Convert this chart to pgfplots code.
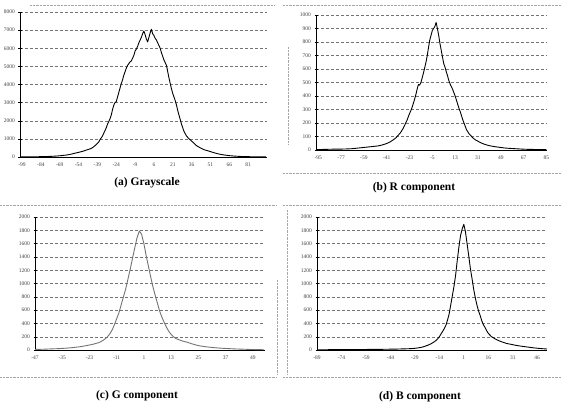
\documentclass[border=0pt]{standalone}
\usepackage{fontspec}
\setmainfont{Liberation Serif}
\usepackage{pgfplots}
\pgfplotsset{compat=1.18}

\pgfplotsset{
  panel/.style={
    scale only axis,
    anchor=south west,
    axis lines=left,
    axis line style={-, black, line width=0.5pt},
    ymin=0,
    enlargelimits=false,
    ymajorgrids,
    major grid style={densely dashed, black!55, line width=0.35pt},
    tick label style={font=\fontsize{5.5}{6}\selectfont, text=black!75},
    /pgf/number format/assume math mode=true,
    /pgf/number format/set thousands separator={},
    scaled y ticks=false,
    xtick style={draw=none},
    ytick style={black, line width=0.4pt},
    tick align=center,
    major tick length=3pt,
    xticklabel style={yshift=-1pt},
  },
  hist/.style={black, line width=0.9pt, line join=round},
}

\begin{document}
\begin{tikzpicture}[x=1pt, y=1pt]
\path[use as bounding box] (0pt,0pt) rectangle (561pt,402pt);

% faint dotted chart-area borders
\draw[black!35, densely dotted, line width=0.4pt] (30pt,397pt) -- (275pt,397pt);
\draw[black!35, densely dotted, line width=0.4pt] (283pt,397pt) -- (561pt,397pt);
\draw[black!35, densely dotted, line width=0.4pt] (288pt,355pt) -- (288pt,258pt);
\draw[black!35, densely dotted, line width=0.4pt] (283pt,229pt) -- (561pt,229pt);
\draw[black!35, densely dotted, line width=0.4pt] (0pt,197pt) -- (277pt,197pt);
\draw[black!35, densely dotted, line width=0.4pt] (277pt,122pt) -- (277pt,27pt);
\draw[black!35, densely dotted, line width=0.4pt] (0pt,25pt) -- (277pt,25pt);
\draw[black!35, densely dotted, line width=0.4pt] (283pt,197pt) -- (561pt,197pt);
\draw[black!35, densely dotted, line width=0.4pt] (287pt,192pt) -- (287pt,27pt);
\draw[black!35, densely dotted, line width=0.4pt] (283pt,25pt) -- (561pt,25pt);

% (a) Grayscale
\begin{axis}[panel, at={(20pt,245pt)}, width=247pt, height=145pt,
  xmin=-100.6, xmax=96, ymax=8000,
  ytick={0,1000,...,8000},
  xtick={-99,-84,...,81}]
\addplot[hist] coordinates {
(-100,5) (-96,8) (-92,10) (-88,14) (-84,18) (-80,25) (-76,35) (-72,50)
(-68,75) (-64,105) (-61,140) (-58,190) (-55,240) (-52,290) (-50,330)
(-48,380) (-46,420) (-44,470) (-42,560) (-40,680) (-38,820) (-37,950)
(-36,1050) (-35,1150) (-34,1300) (-33,1450) (-32,1600) (-31,1800)
(-30,1950) (-29,2100) (-28,2300) (-27,2600) (-26,2850) (-25,3000)
(-24,3050) (-23,3300) (-22,3550) (-21,3800) (-20,4050) (-19,4250)
(-18,4500) (-17,4700) (-16,4900) (-15,5050) (-14,5150) (-13,5250)
(-12,5300) (-11,5450) (-10,5600) (-9,5850) (-8,5950) (-7,6100)
(-6,6300) (-5,6450) (-4,6600) (-3,6800) (-2,6950) (-1,6750) (0,6500)
(1,6350) (2,6600) (3,6850) (4,7050) (5,6800) (6,6700) (7,6550)
(8,6450) (9,6300) (10,6150) (11,6000) (12,5750) (13,5550) (14,5350)
(15,5200) (16,5050) (17,4700) (18,4350) (19,4050) (20,3750) (21,3500)
(22,3300) (23,3100) (24,2850) (25,2550) (26,2300) (27,2050) (28,1800)
(29,1600) (30,1400) (32,1150) (34,1000) (36,880) (38,750) (40,620)
(43,500) (46,400) (50,320) (54,230) (58,160) (62,110) (66,75) (70,50)
(75,30) (80,20) (85,12) (90,8) (95,5)
};
\end{axis}

% (b) R component
\begin{axis}[panel, at={(316pt,252pt)}, width=231pt, height=135pt,
  xmin=-96.8, xmax=85.5, ymax=1000,
  ytick={0,100,...,1000},
  xtick={-95,-77,...,85}]
\addplot[hist] coordinates {
(-97,3) (-92,4) (-88,5) (-84,6) (-80,6) (-76,7) (-72,8) (-68,10)
(-64,14) (-60,18) (-56,22) (-52,26) (-48,30) (-45,36) (-42,45)
(-40,52) (-38,62) (-36,74) (-34,88) (-32,108) (-30,130) (-29,145)
(-28,160) (-27,180) (-26,200) (-25,220) (-24,245) (-23,270) (-22,290)
(-21,315) (-20,345) (-19,375) (-18,410) (-17,450) (-16,485) (-15,480)
(-14,500) (-13,535) (-12,570) (-11,610) (-10,650) (-9,700) (-8,760)
(-7,815) (-6,850) (-5,885) (-4,900) (-3,915) (-2,945) (-1,900) (0,850)
(1,790) (2,740) (3,690) (4,640) (5,615) (6,580) (7,550) (8,515)
(9,490) (10,470) (11,450) (12,425) (13,400) (14,370) (15,340) (16,310)
(17,285) (18,255) (19,225) (20,200) (21,175) (22,150) (23,135)
(24,120) (25,110) (27,90) (29,75) (31,65) (34,50) (37,40) (40,32)
(44,25) (48,20) (52,15) (56,12) (60,10) (65,7) (70,5) (75,4) (80,3)
(85,3)
};
\end{axis}

% (c) G component
\begin{axis}[panel, at={(35pt,52pt)}, width=230pt, height=133pt,
  xmin=-47, xmax=54.4, ymax=2000,
  ytick={0,200,...,2000},
  xtick={-47,-35,...,49}]
\addplot[black!55, line width=0.9pt, line join=round] coordinates {
(-47,8) (-45,10) (-43,12) (-41,15) (-39,18) (-37,20) (-35,24) (-33,28)
(-31,34) (-29,42) (-27,50) (-25,62) (-23,75) (-21,90) (-20,100)
(-19,110) (-18,125) (-17,145) (-16,170) (-15,200) (-14,245) (-13,300)
(-12,380) (-11,470) (-10,560) (-9,680) (-8,800) (-7,920) (-6,1070)
(-5,1220) (-4,1380) (-3,1540) (-2,1690) (-1,1790) (0,1740) (1,1600)
(2,1420) (3,1260) (4,1100) (5,950) (6,820) (7,700) (8,580) (9,490)
(10,410) (11,340) (12,280) (13,235) (14,200) (15,175) (16,160)
(17,148) (18,135) (20,118) (22,95) (24,75) (26,60) (28,50) (30,42)
(33,32) (36,25) (39,20) (42,15) (45,12) (48,8) (51,6) (54,4)
};
\end{axis}

% (d) B component
\begin{axis}[panel, at={(317pt,52pt)}, width=230pt, height=133pt,
  xmin=-89, xmax=52, ymax=2000,
  ytick={0,200,...,2000},
  xtick={-89,-74,...,46}]
\addplot[hist] coordinates {
(-89,3) (-85,4) (-80,5) (-75,5) (-70,6) (-65,7) (-60,8) (-55,9)
(-50,10) (-45,12) (-40,14) (-36,17) (-32,20) (-29,25) (-27,32)
(-25,40) (-23,55) (-21,72) (-19,95) (-17,125) (-16,145) (-15,170)
(-14,200) (-13,240) (-12,280) (-11,320) (-10,370) (-9,450) (-8,540)
(-7,680) (-6,820) (-5,960) (-4,1130) (-3,1350) (-2,1550) (-1,1720)
(0,1820) (1,1890) (2,1780) (3,1600) (4,1420) (5,1230) (6,1080)
(7,920) (8,790) (9,680) (10,590) (11,520) (12,440) (13,380) (14,340)
(15,290) (16,250) (17,225) (18,200) (20,170) (22,145) (24,125)
(27,100) (30,85) (33,70) (36,58) (40,45) (44,32) (48,22) (52,15)
};
\end{axis}

% captions
\node[font=\fontsize{11.5}{13}\selectfont\bfseries] at (147pt,219pt) {(a) Grayscale};
\node[font=\fontsize{11.5}{13}\selectfont\bfseries] at (414pt,214pt) {(b) R component};
\node[font=\fontsize{11.5}{13}\selectfont\bfseries] at (137pt,6pt) {(c) G component};
\node[font=\fontsize{11.5}{13}\selectfont\bfseries] at (420pt,5pt) {(d) B component};
\end{tikzpicture}
\end{document}
